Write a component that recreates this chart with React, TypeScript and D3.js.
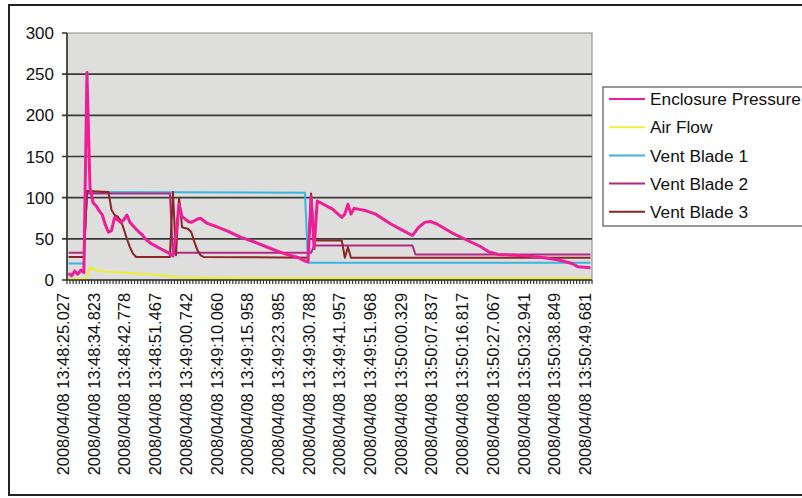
import React from "react";
import * as d3 from "d3";

// ---------- data ----------
const categoryCount = 171;
const labelEvery = 10;
const tickLabels = [
  "2008/04/08 13:48:25.027",
  "2008/04/08 13:48:34.823",
  "2008/04/08 13:48:42.778",
  "2008/04/08 13:48:51.467",
  "2008/04/08 13:49:00.742",
  "2008/04/08 13:49:10.060",
  "2008/04/08 13:49:15.958",
  "2008/04/08 13:49:23.985",
  "2008/04/08 13:49:30.788",
  "2008/04/08 13:49:41.957",
  "2008/04/08 13:49:51.968",
  "2008/04/08 13:50:00.329",
  "2008/04/08 13:50:07.837",
  "2008/04/08 13:50:16.817",
  "2008/04/08 13:50:27.067",
  "2008/04/08 13:50:32.941",
  "2008/04/08 13:50:38.849",
  "2008/04/08 13:50:49.681",
];
const yTicks = [0, 50, 100, 150, 200, 250, 300];

// [category index, value]
const enclosurePressure: [number, number][] = [
  [0, 8], [1, 5], [2, 11], [3, 7], [4, 12], [5, 9], [6, 252], [7, 112], [8, 94], [9, 90],
  [10, 84], [11, 79], [12, 67], [13, 58], [14, 60], [15, 76], [16, 73], [17, 70], [18, 73],
  [19, 79], [20, 70], [21, 66], [22, 62], [23, 58], [24, 55], [25, 50], [26, 47], [27, 44],
  [28, 42], [29, 40], [30, 38], [31, 36], [32, 34], [33, 32], [34, 29], [35, 55], [36, 92],
  [37, 77], [38, 74], [39, 71], [40, 70], [41, 72], [42, 74], [43, 75], [44, 72], [45, 69],
  [48, 65], [52, 59], [56, 52], [60, 47], [64, 41], [68, 35], [72, 30], [75, 27], [77, 23],
  [78, 22], [79, 101], [80, 38], [81, 96], [83, 92], [86, 86], [89, 76], [90, 80], [91, 92],
  [92, 80], [93, 87], [97, 84], [100, 80], [105, 68], [109, 60], [112, 54], [114, 64],
  [116, 70], [118, 71], [120, 68], [125, 57], [130, 48], [134, 41], [137, 34], [140, 31],
  [145, 30], [150, 29], [155, 27], [160, 24], [164, 20], [166, 16], [170, 15],
];
const airFlow: [number, number][] = [
  [0, 1], [5, 1], [6, 3], [7, 15], [9, 12], [12, 10], [18, 9], [25, 7], [33, 5], [36, 3],
  [60, 2], [170, 2],
];
const ventBlade1: [number, number][] = [
  [0, 20], [5, 20], [6, 107], [77, 106], [78, 21], [170, 21],
];
const ventBlade2: [number, number][] = [
  [0, 33], [5, 33], [6, 105], [33, 105], [34, 33], [79, 33], [80, 42], [112, 42], [113, 31],
  [170, 31],
];
const ventBlade3: [number, number][] = [
  [0, 28], [5, 28], [6, 108], [13, 107], [14, 85], [15, 79], [16, 77], [17, 72], [18, 62],
  [19, 50], [20, 40], [21, 32], [22, 28], [33, 28], [34, 107], [35, 30], [36, 100], [37, 64],
  [39, 62], [40, 58], [41, 46], [42, 36], [43, 30], [44, 28], [78, 27], [79, 105], [80, 48],
  [89, 48], [90, 27], [91, 40], [92, 27], [170, 27],
];

const seriesNames = ["Enclosure Pressure", "Air Flow", "Vent Blade 1", "Vent Blade 2", "Vent Blade 3"];
const seriesColors = ["#ee1f96", "#eeee3a", "#3ab4e2", "#b02a84", "#8a2626"];
const seriesWidths = [3, 2.2, 2, 2, 2];
const seriesData = [enclosurePressure, airFlow, ventBlade1, ventBlade2, ventBlade3];
const drawOrder = [1, 2, 3, 4, 0];

export default function App() {
  const left = 67, right = 592, top = 33, bottom = 280;
  const x = d3.scaleLinear().domain([-0.5, categoryCount - 0.5]).range([left, right]);
  const y = d3.scaleLinear().domain([0, 300]).range([bottom, top]);
  const line = d3
    .line<[number, number]>()
    .x((d) => x(d[0]))
    .y((d) => y(d[1]));
  const font = "'Liberation Sans', Arial, sans-serif";
  const boundaries = d3.range(categoryCount + 1);

  return (
    <svg
      width={802}
      height={498}
      style={{ position: "absolute", left: 0, top: 0, display: "block", background: "#fff" }}
      fontFamily={font}
    >
      <rect x={9} y={5} width={820} height={490} fill="#fff" stroke="#222" strokeWidth={2} />
      <rect x={left} y={top} width={right - left} height={bottom - top} fill="#dededc" stroke="#9a9a9a" strokeWidth={1.2} />
      {yTicks.filter((t) => t > 0 && t < 300).map((t) => (
        <line key={t} x1={left - 5} x2={right} y1={y(t)} y2={y(t)} stroke="#3a3a3a" strokeWidth={1.6} />
      ))}
      {[0, 300].map((t) => (
        <line key={"e" + t} x1={left - 5} x2={left} y1={y(t)} y2={y(t)} stroke="#3a3a3a" strokeWidth={1.6} />
      ))}
      <line x1={left} x2={left} y1={top} y2={bottom} stroke="#333" strokeWidth={1.6} />
      {yTicks.map((t) => (
        <text key={"l" + t} x={54} y={y(t)} dy="0.36em" textAnchor="end" fontSize={17} fill="#111">
          {t}
        </text>
      ))}
      {drawOrder.map((i) => (
        <path
          key={seriesNames[i]}
          d={line(seriesData[i]) || ""}
          fill="none"
          stroke={seriesColors[i]}
          strokeWidth={seriesWidths[i]}
          strokeLinejoin="round"
        />
      ))}
      <line x1={left} x2={right} y1={bottom} y2={bottom} stroke="#333" strokeWidth={1.6} />
      {boundaries.map((b) => (
        <line key={"t" + b} x1={x(b - 0.5)} x2={x(b - 0.5)} y1={bottom} y2={bottom + 4} stroke="#333" strokeWidth={1.2} />
      ))}
      {tickLabels.map((lab, k) => {
        const cx = x(k * labelEvery) + 0.5;
        return (
          <text
            key={lab}
            transform={`translate(${cx},293) rotate(-90)`}
            textAnchor="end"
            fontSize={16.4}
            fill="#111"
          >
            {lab}
          </text>
        );
      })}
      <rect x={603} y={87} width={260} height={139} fill="#fff" stroke="#777" strokeWidth={1.5} />
      {seriesNames.map((name, i) => {
        const cy = 99 + i * 28.2;
        return (
          <g key={"lg" + name}>
            <line x1={609} x2={645} y1={cy} y2={cy} stroke={seriesColors[i]} strokeWidth={2} />
            <text x={650} y={cy} dy="0.36em" fontSize={17.3} fill="#111">
              {name}
            </text>
          </g>
        );
      })}
    </svg>
  );
}
